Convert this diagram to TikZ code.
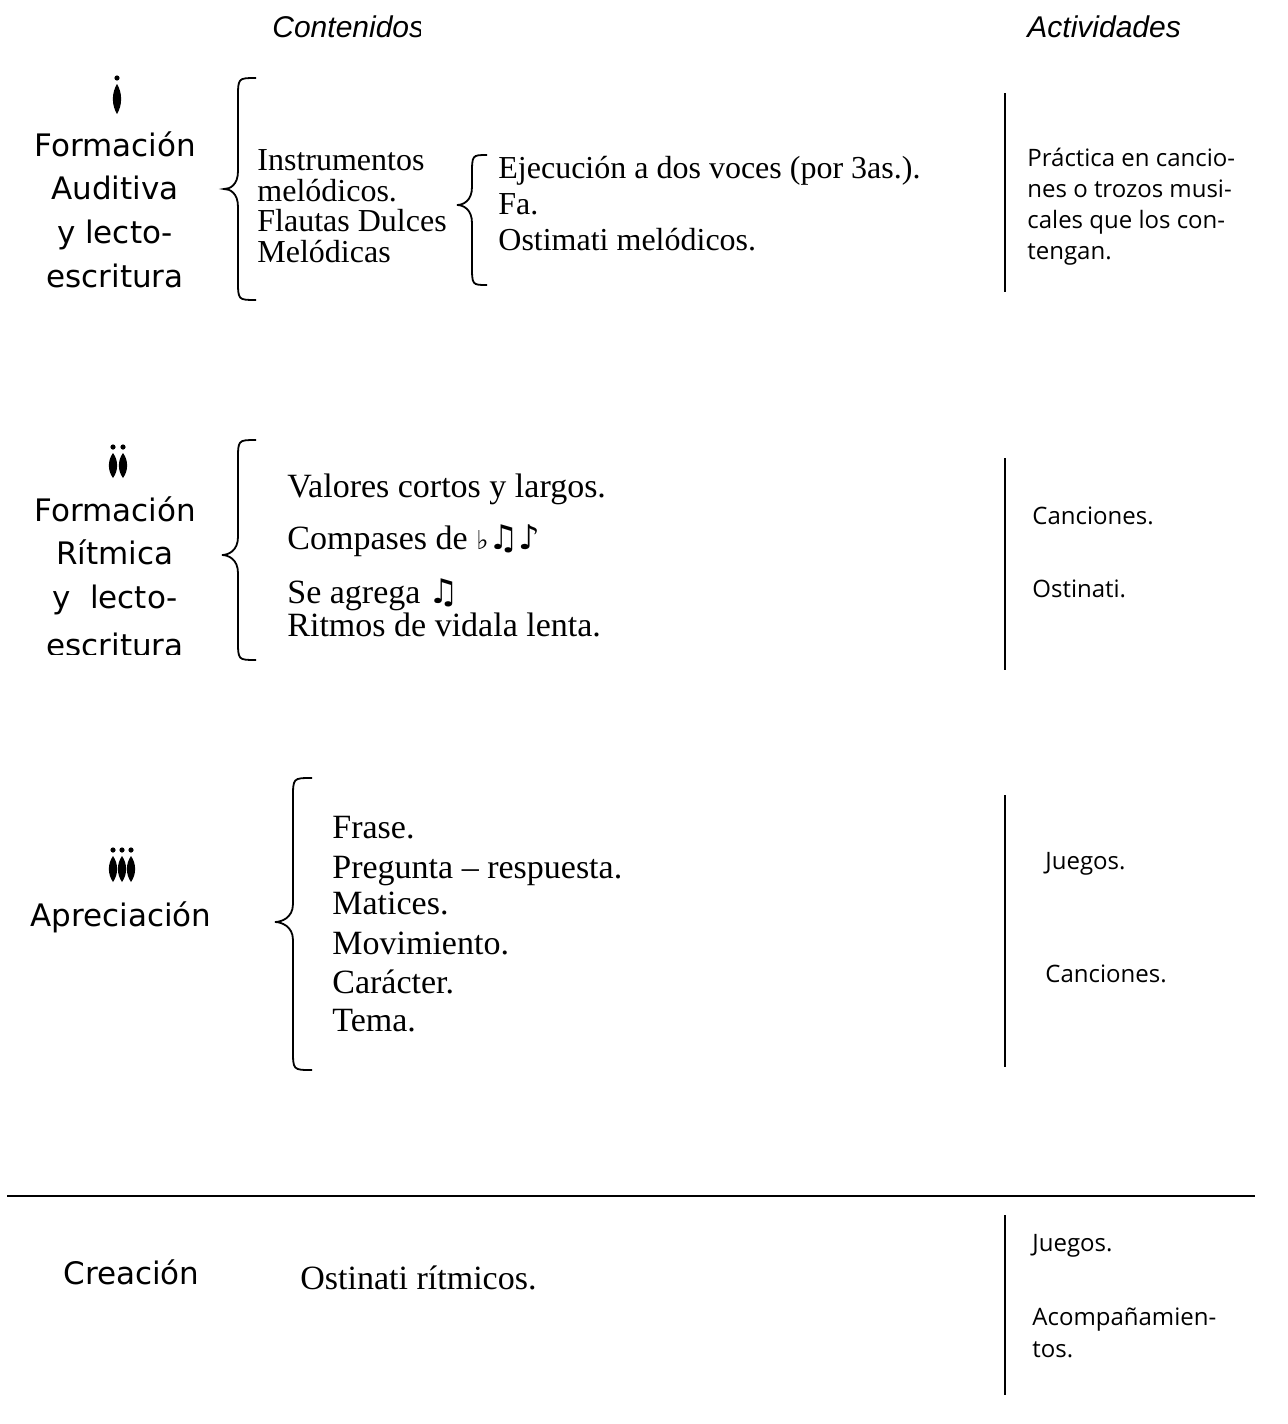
\documentclass[tikz,border=0pt]{standalone}
\usepackage{fontspec}
\setmainfont{Liberation Serif}
\newfontfamily\labfont{DejaVu Sans}
\newfontfamily\hdrfont{Liberation Sans}
\newfontfamily\actfont{Open Sans}
\newfontfamily\symfont{DejaVu Sans}
\newcommand\mybrace[6]{% xend, xvert, xtip, ytop, ymid, ybot
  \draw[bracestyle] (#1,#4) .. controls (#2,#4) .. (#2,#4+20)
    -- (#2,#5-18) .. controls (#2,#5-4) and (#3+6,#5) .. (#3,#5)
    .. controls (#3+6,#5) and (#2,#5+4) .. (#2,#5+18)
    -- (#2,#6-20) .. controls (#2,#6) .. (#1,#6);}
\newcommand\spindle[3]{% x, ytop, ybot
  \fill (#1,#2-6) circle (2.6);
  \fill (#1,#2) .. controls (#1+5.5,#2+0.3*#3-0.3*#2) and (#1+5.5,#2+0.7*#3-0.7*#2) .. (#1,#3)
     .. controls (#1-5.5,#2+0.7*#3-0.7*#2) and (#1-5.5,#2+0.3*#3-0.3*#2) .. (#1,#2) -- cycle;}
\tikzset{
  hdr/.style={font=\hdrfont\itshape\fontsize{15}{18}\selectfont, anchor=base west, inner sep=0pt},
  lab/.style={font=\labfont\fontsize{15.5}{18}\selectfont, anchor=base, inner sep=0pt},
  labw/.style={font=\labfont\fontsize{15.5}{18}\selectfont, anchor=base west, inner sep=0pt},
  cont/.style={font=\fontsize{16}{18}\selectfont, anchor=base west, inner sep=0pt},
  contb/.style={font=\fontsize{17}{19}\selectfont, anchor=base west, inner sep=0pt},
  act/.style={font=\actfont\fontsize{12}{14}\selectfont, anchor=base west, inner sep=0pt},
  vrule/.style={line width=1pt},
  bracestyle/.style={line width=0.9pt},
}
\begin{document}
\begin{tikzpicture}[x=0.5pt,y=-0.5pt]
\useasboundingbox[fill=white] (0,0) rectangle (1288,1424);

% headers
\begin{scope}
  \clip (0,0) rectangle (420,60);
  \node[hdr] (hcont) at (272,38) {Contenidos};
\end{scope}
\node[hdr] (hact) at (1027,38) {Actividades};

% ---------- Section i ----------
\spindle{117}{84}{114}
\node[lab] (l1a) at (115,156) {Formación};
\node[lab] (l1b) at (115,199) {Auditiva};
\node[lab] (l1c) at (115,243) {y lecto-};
\node[lab] (l1d) at (115,287) {escritura};
\mybrace{256}{238}{224}{78}{189}{300}
\node[cont] (c1a) at (257,170) {Instrumentos};
\node[cont] (c1b) at (257,201) {melódicos.};
\node[cont] (c1c) at (257,231) {Flautas Dulces};
\node[cont] (c1d) at (257,262) {Melódicas};
\mybrace{487}{472}{457}{155}{205}{285}
\node[cont] (c1e) at (498,178) {Ejecución a dos voces (por 3as.).};
\node[cont] (c1f) at (498,214) {Fa.};
\node[cont] (c1g) at (498,250) {Ostimati melódicos.};
\draw[vrule] (1005,93) -- (1005,292);
\node[act] (a1a) at (1027,166) {Práctica en cancio-};
\node[act] (a1b) at (1027,197) {nes o trozos musi-};
\node[act] (a1c) at (1027,228) {cales que los con-};
\node[act] (a1d) at (1027,259) {tengan.};

% ---------- Section ii ----------
\spindle{113}{453}{478}
\spindle{123}{453}{478}
\node[lab] (l2a) at (115,521) {Formación};
\node[lab] (l2b) at (115,564) {Rítmica};
\node[lab] (l2c) at (115,608) {y\ \ lecto-};
\begin{scope}
  \clip (0,620) rectangle (220,654);
  \node[lab] (l2d) at (115,656) {escritura};
\end{scope}
\mybrace{256}{238}{222}{440}{555}{660}
\node[contb] (c2a) at (287,497) {Valores cortos y largos.};
\node[contb] (c2b) at (287,549) {Compases de {\symfont\fontsize{13}{15}\selectfont ♭}{\symfont ♫♪}};
\node[contb] (c2c) at (287,603) {Se agrega {\symfont ♫}};
\node[contb] (c2d) at (287,636) {Ritmos de vidala lenta.};
\draw[vrule] (1005,458) -- (1005,670);
\node[act] (a2a) at (1032,524) {Canciones.};
\node[act] (a2b) at (1032,597) {Ostinati.};

% ---------- Section iii ----------
\spindle{113}{856}{882}
\spindle{122}{856}{882}
\spindle{131}{856}{882}
\node[labw] (l3a) at (30,926) {Apreciación};
\mybrace{312}{293}{275}{778}{922}{1070}
\node[contb] (c3a) at (332,838) {Frase.};
\node[contb] (c3b) at (332,878) {Pregunta – respuesta.};
\node[contb] (c3c) at (332,914) {Matices.};
\node[contb] (c3d) at (332,954) {Movimiento.};
\node[contb] (c3e) at (332,993) {Carácter.};
\node[contb] (c3f) at (332,1031) {Tema.};
\draw[vrule] (1005,795) -- (1005,1067);
\node[act] (a3a) at (1045,869) {Juegos.};
\node[act] (a3b) at (1045,982) {Canciones.};

% ---------- separator ----------
\draw[vrule] (7,1196) -- (1255,1196);

% ---------- Creación ----------
\node[labw] (l4a) at (63,1284) {Creación};
\node[contb] (c4a) at (300,1289) {Ostinati rítmicos.};
\draw[vrule] (1005,1215) -- (1005,1395);
\node[act] (a4a) at (1032,1251) {Juegos.};
\node[act] (a4b) at (1032,1325) {Acompañamien-};
\node[act] (a4c) at (1032,1357) {tos.};
\end{tikzpicture}
\end{document}
